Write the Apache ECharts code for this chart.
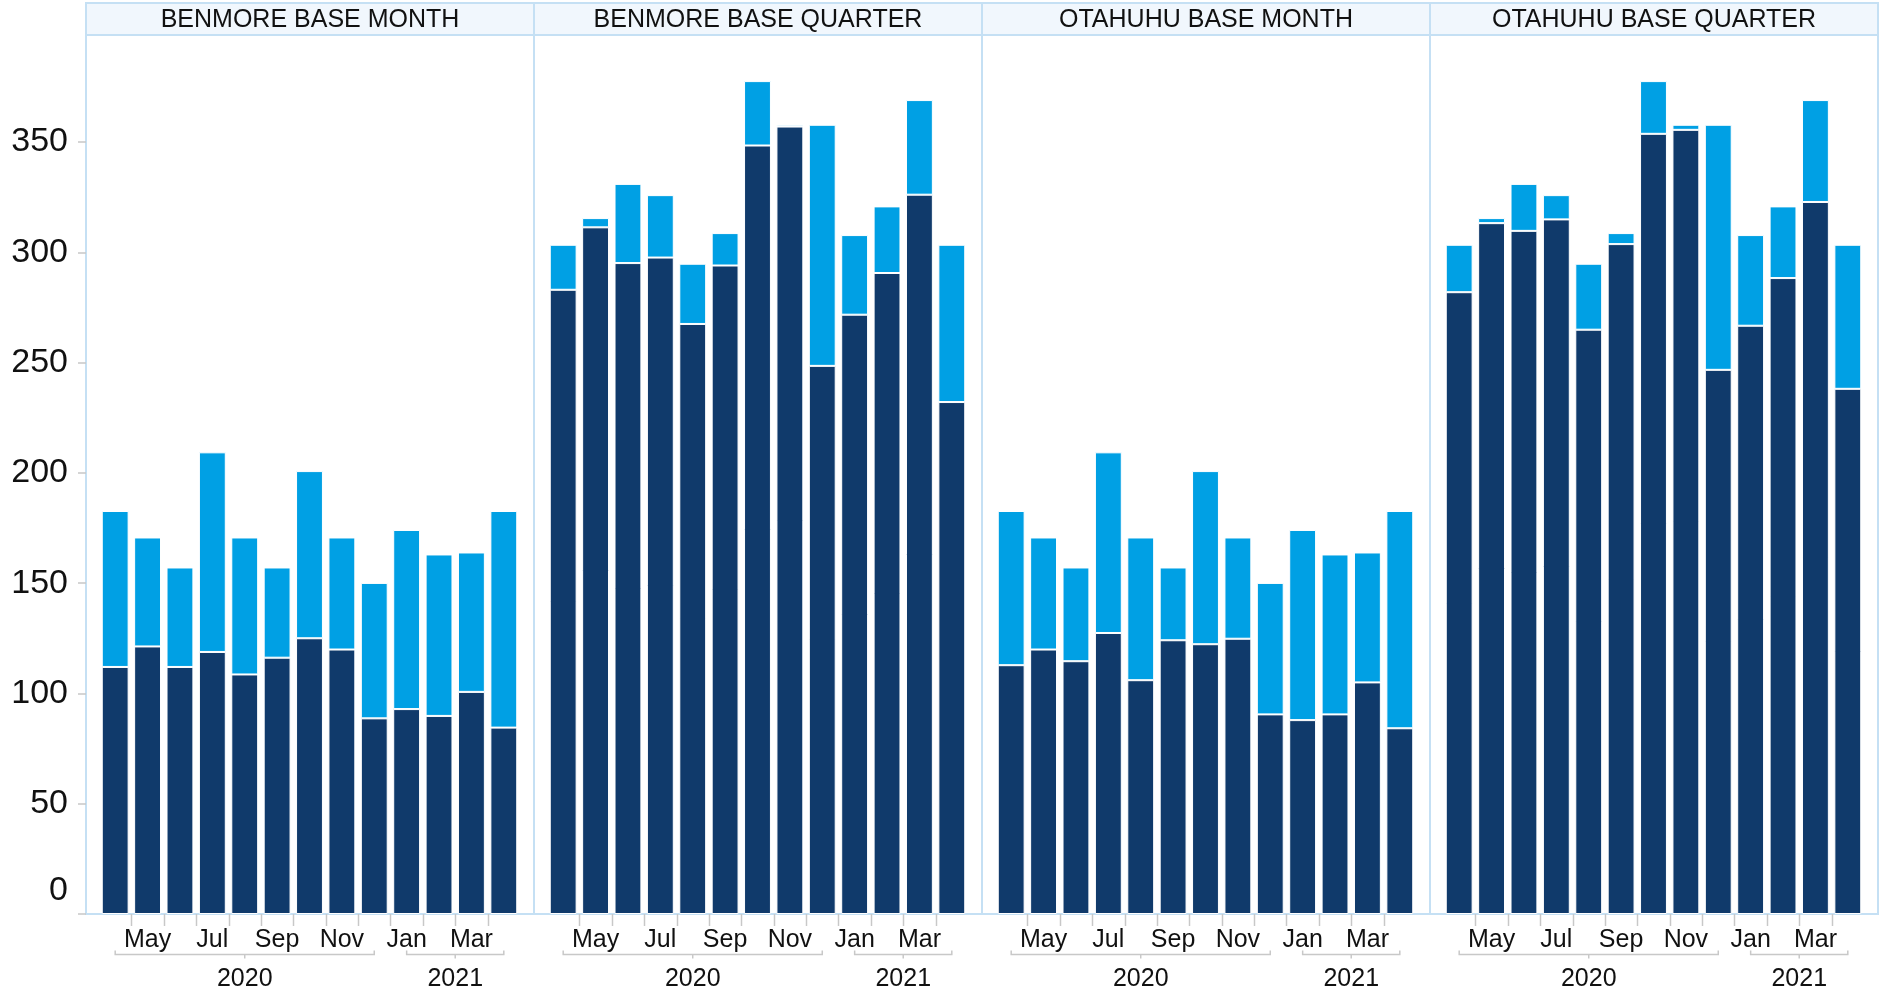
<!DOCTYPE html>
<html><head><meta charset="utf-8">
<script src="https://cdn.jsdelivr.net/npm/echarts@6/dist/echarts.min.js"></script>
<style>html,body{margin:0;padding:0;background:#fff}#c{width:1882px;height:990px}</style>
</head><body><div id="c"></div>
<script>
// ---------- data ----------
const months = ['Apr','May','Jun','Jul','Aug','Sep','Oct','Nov','Dec','Jan','Feb','Mar','Apr'];
const years  = ['2020','2020','2020','2020','2020','2020','2020','2020','2020','2021','2021','2021','2021'];
const panelTitles = ['BENMORE BASE MONTH','BENMORE BASE QUARTER','OTAHUHU BASE MONTH','OTAHUHU BASE QUARTER'];

const benmoreMonthLower   = [112.0,121.3,112.0,118.8,108.6,116.2,125.0,119.9,88.7,92.9,89.8,100.7,84.5];
const benmoreMonthUpper   = [70.7,49.4,45.1,90.5,62.1,40.9,75.8,50.8,61.4,81.2,73.2,63.2,98.2];
const benmoreQuarterLower = [283.0,311.3,295.1,297.6,267.5,294.0,348.4,357.0,248.5,271.7,290.6,326.1,232.1];
const benmoreQuarterUpper = [20.4,4.2,35.9,28.3,27.3,14.7,29.2,0.8,109.3,36.1,30.2,42.9,71.3];
const otahuhuMonthLower   = [112.8,119.9,114.6,127.4,106.0,124.1,122.3,124.8,90.5,87.9,90.5,105.0,84.2];
const otahuhuMonthUpper   = [69.9,50.8,42.5,81.9,64.7,33.0,78.5,45.9,59.6,86.2,72.5,58.9,98.5];
const otahuhuQuarterLower = [281.9,313.2,309.7,314.9,264.9,303.7,353.7,355.5,246.7,266.7,288.3,322.8,238.1];
const otahuhuQuarterUpper = [21.5,2.3,21.3,11.0,29.9,5.0,23.9,2.3,111.1,41.1,32.5,46.2,65.3];

const lowerSeries = [benmoreMonthLower, benmoreQuarterLower, otahuhuMonthLower, otahuhuQuarterLower];
const upperSeries = [benmoreMonthUpper, benmoreQuarterUpper, otahuhuMonthUpper, otahuhuQuarterUpper];

// ---------- layout & style ----------
const FONT = "'Liberation Sans', Arial, sans-serif";
const PANEL_LEFT = 86, PANEL_W = 448, HEADER_TOP = 3, PLOT_TOP = 35, PLOT_BOTTOM = 914;
const INSET_L = 13, INSET_R = 14;
const FRAME = '#c5e0f4', HEADER_FILL = '#f1f7fd', TICK = '#c8c8c8', TXT = '#111';
const DARK = '#103a6b', LIGHT = '#00a0e4';
const Y_FS = 34, X_FS = 25, HEAD_FS = 25;

const chart = echarts.init(document.getElementById('c'), null, {renderer: 'canvas'});

const grids = [], xAxes = [], yAxes = [], series = [];
for (let i = 0; i < 4; i++) {
  const pl = PANEL_LEFT + i * PANEL_W;
  grids.push({left: pl + INSET_L, width: PANEL_W - INSET_L - INSET_R, top: PLOT_TOP, height: PLOT_BOTTOM - PLOT_TOP});
  xAxes.push({
    type: 'category', gridIndex: i, data: months,
    axisLine: {show: false}, axisTick: {show: false},
    axisLabel: {interval: (idx) => idx % 2 === 1, fontSize: X_FS, color: TXT, fontFamily: FONT, margin: 14}
  });
  yAxes.push({
    type: 'value', gridIndex: i, min: 0, max: 398.5, interval: 50, show: i === 0,
    offset: INSET_L,
    axisLine: {show: false},
    axisTick: {show: true, length: 8, lineStyle: {color: TICK, width: 1.5}},
    splitLine: {show: false},
    axisLabel: {
      showMaxLabel: false, fontSize: Y_FS, color: TXT, fontFamily: FONT, margin: 18,
      formatter: (v) => v === 0 ? '{z|0}' : String(v),
      rich: {z: {fontSize: Y_FS, color: TXT, fontFamily: FONT, padding: [0, 0, 46, 0]}}
    }
  });
  series.push({
    type: 'bar', xAxisIndex: i, yAxisIndex: i, stack: 's' + i, data: lowerSeries[i],
    barCategoryGap: '17%', itemStyle: {color: DARK, borderColor: '#fff', borderWidth: 1}, silent: true
  });
  series.push({
    type: 'bar', xAxisIndex: i, yAxisIndex: i, stack: 's' + i, data: upperSeries[i],
    barCategoryGap: '17%', itemStyle: {color: LIGHT, borderColor: '#fff', borderWidth: 1}, silent: true
  });
}

chart.setOption({
  animation: false, backgroundColor: '#fff',
  grid: grids, xAxis: xAxes, yAxis: yAxes, series: series
});

// ---------- decorations (frames, headers, ticks, year brackets) ----------
const g = [];
for (let i = 0; i < 4; i++) {
  const pl = PANEL_LEFT + i * PANEL_W;
  g.push({type: 'rect', z: 0, shape: {x: pl, y: PLOT_TOP, width: PANEL_W, height: PLOT_BOTTOM - PLOT_TOP},
    style: {fill: 'none', stroke: FRAME, lineWidth: 2}});
  g.push({type: 'rect', z: 1, shape: {x: pl, y: HEADER_TOP, width: PANEL_W, height: PLOT_TOP - HEADER_TOP},
    style: {fill: HEADER_FILL, stroke: FRAME, lineWidth: 2}});
  g.push({type: 'text', z: 2, x: pl + PANEL_W / 2, y: (HEADER_TOP + PLOT_TOP) / 2 + 1,
    style: {text: panelTitles[i], fill: TXT, font: HEAD_FS + 'px ' + FONT, textAlign: 'center', textVerticalAlign: 'middle'}});

  const px = (k) => chart.convertToPixel({xAxisIndex: i}, k);
  for (let k = 1; k < months.length; k++) {
    const x = Math.round((px(k - 1) + px(k)) / 2) + 0.5;
    g.push({type: 'line', z: 2, shape: {x1: x, y1: PLOT_BOTTOM, x2: x, y2: PLOT_BOTTOM + 12},
      style: {stroke: TICK, lineWidth: 1.5}});
  }
  // year brackets
  const groups = [];
  years.forEach((yv, k) => {
    if (!groups.length || groups[groups.length - 1].year !== yv) groups.push({year: yv, s: k, e: k});
    else groups[groups.length - 1].e = k;
  });
  const by = 954.5;
  groups.forEach((gr) => {
    const xs = px(gr.s), xe = px(gr.e), xm = (xs + xe) / 2;
    g.push({type: 'polyline', z: 2, shape: {points: [[xs, by - 4], [xs, by], [xe, by], [xe, by - 4]]},
      style: {stroke: TICK, lineWidth: 1.5, fill: 'none'}});
    g.push({type: 'line', z: 2, shape: {x1: xm, y1: by, x2: xm, y2: by + 4},
      style: {stroke: TICK, lineWidth: 1.5}});
    g.push({type: 'text', z: 2, x: xm, y: 979,
      style: {text: gr.year, fill: TXT, font: X_FS + 'px ' + FONT, textAlign: 'center', textVerticalAlign: 'middle'}});
  });
}
chart.setOption({graphic: g});
</script>
</body></html>
